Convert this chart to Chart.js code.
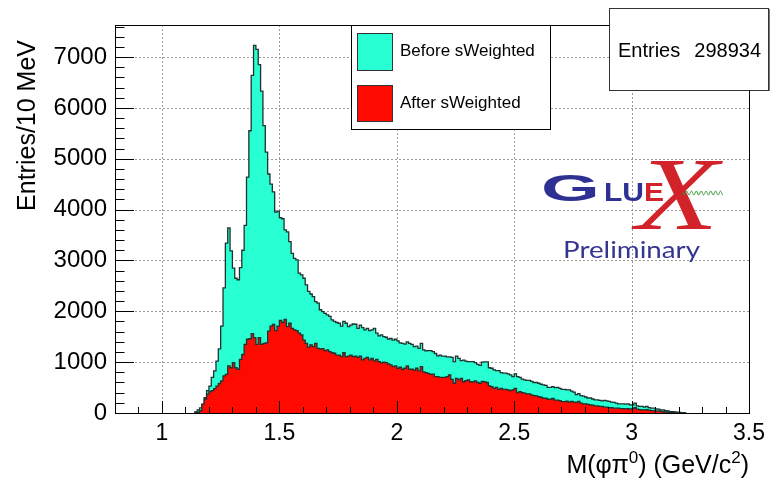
<!DOCTYPE html>
<html>
<head>
<meta charset="utf-8">
<script src="https://cdn.jsdelivr.net/npm/chart.js@4.4.1/dist/chart.umd.min.js"></script>
<style>
  body { margin: 0; background: #fff; }
  canvas { display: block; }
</style>
</head>
<body>
<canvas id="myChart" width="772" height="480"></canvas>
<script>
// axis ranges (GeV, entries)
const xMin = 0.8;
const xMax = 3.5;
const yMax = 7630;

// 10 MeV bins, first filled bin starts at 1.14
const binStart = 1.14;
const binWidth = 0.01;

const xTicks = [1, 1.5, 2, 2.5, 3, 3.5];
const yTicks = [0, 1000, 2000, 3000, 4000, 5000, 6000, 7000];

const seriesNames = ['Before sWeighted', 'After sWeighted'];
const entries = 298934;

// bin contents, one value per 10 MeV bin from 1.14 on
const beforeCounts = [
  20, 60, 100, 170, 300, 440, 530, 700, 830, 1020,
  1260, 1710, 2460, 3340, 3640, 3190, 2850, 2650, 2620, 2860,
  3200, 3690, 4640, 5550, 6640, 7230, 7150, 6850, 6330, 5650,
  5130, 4700, 4500, 4350, 3950, 3970, 3840, 3820, 3600, 3560,
  3370, 3140, 3040, 3010, 2750, 2715, 2650, 2520, 2390, 2340,
  2290, 2190, 2160, 2030, 1995, 1960, 1930, 1900, 1830, 1800,
  1780, 1765, 1710, 1800, 1765, 1700, 1730, 1750, 1745, 1665,
  1730, 1680, 1635, 1665, 1620, 1635, 1665, 1570, 1515, 1535,
  1500, 1490, 1455, 1465, 1435, 1450, 1420, 1380, 1370, 1355,
  1400, 1370, 1350, 1305, 1315, 1270, 1370, 1240, 1220, 1225,
  1225, 1205, 1170, 1125, 1140, 1120, 1120, 1105, 1105, 1095,
  1010, 1120, 1075, 1030, 1040, 1020, 1010, 1010, 1010, 990,
  955, 935, 1000, 1005, 1005, 890, 880, 850, 835, 835,
  795, 785, 785, 770, 750, 715, 770, 715, 700, 665,
  650, 640, 640, 620, 600, 600, 585, 565, 555, 545,
  505, 505, 520, 500, 505, 485, 465, 465, 455, 455,
  430, 410, 360, 380, 340, 330, 315, 295, 295, 275,
  260, 260, 250, 240, 250, 240, 230, 215, 210, 195,
  180, 180, 180, 175, 180, 160, 160, 195, 140, 130,
  130, 115, 130, 105, 95, 95, 80, 75, 60, 60,
  45, 40, 25, 25, 20, 15, 12, 8, 5
];

const afterCounts = [
  10, 15, 45, 175, 275, 370, 420, 440, 480, 530,
  580, 630, 730, 760, 925, 890, 990, 890, 860, 1055,
  1150, 1350, 1450, 1460, 1560, 1480, 1350, 1480, 1350, 1370,
  1380, 1610, 1710, 1740, 1620, 1710, 1820, 1780, 1840, 1700,
  1765, 1665, 1635, 1620, 1570, 1535, 1435, 1370, 1290, 1340,
  1305, 1370, 1270, 1260, 1265, 1225, 1240, 1205, 1185, 1175,
  1140, 1140, 1110, 1185, 1110, 1120, 1140, 1110, 1120, 1095,
  1120, 1045, 1075, 1095, 1045, 1075, 1025, 1055, 1010, 985,
  1000, 990, 965, 945, 910, 925, 880, 900, 860, 880,
  925, 860, 860, 845, 880, 830, 910, 810, 795, 780,
  760, 765, 715, 715, 700, 700, 700, 715, 750, 660,
  585, 680, 650, 680, 615, 635, 650, 615, 610, 630,
  600, 585, 620, 610, 600, 535, 520, 485, 505, 465,
  485, 465, 465, 455, 440, 455, 485, 400, 420, 400,
  390, 375, 375, 355, 340, 335, 320, 310, 290, 290,
  270, 270, 285, 255, 255, 245, 225, 225, 235, 215,
  230, 215, 210, 230, 195, 180, 180, 170, 160, 155,
  140, 140, 130, 130, 115, 115, 105, 105, 95, 95,
  95, 85, 85, 80, 85, 75, 85, 105, 75, 65,
  60, 60, 65, 55, 45, 45, 40, 40, 35, 25,
  20, 20, 15, 12, 8, 6, 3, 2, 0
];

const tealFill = '#28ffd2';
const redFill = '#ff0a00';
const histLine = '#1d3330';
const font = "'Liberation Sans', Arial, sans-serif";

// turn bin contents into a closed step outline (low edge of each bin)
function histPoints(counts) {
  const pts = [{ x: binStart, y: 0 }];
  counts.forEach((c, i) => pts.push({ x: binStart + i * binWidth, y: c }));
  pts.push({ x: binStart + counts.length * binWidth, y: 0 });
  return pts;
}

// ROOT style frame, dotted grid and inside ticks
const rootFrame = {
  id: 'rootFrame',
  beforeDatasetsDraw(chart) {
    const { ctx, chartArea: a, scales: { x, y } } = chart;
    ctx.save();
    ctx.strokeStyle = '#9a9a9a';
    ctx.lineWidth = 1;
    ctx.setLineDash([2, 2]);
    xTicks.forEach(v => {
      const px = Math.round(x.getPixelForValue(v)) + 0.5;
      if (px > a.right - 2) return;
      ctx.beginPath(); ctx.moveTo(px, a.top); ctx.lineTo(px, a.bottom); ctx.stroke();
    });
    yTicks.forEach(v => {
      if (v === 0) return;
      const py = Math.round(y.getPixelForValue(v)) + 0.5;
      ctx.beginPath(); ctx.moveTo(a.left, py); ctx.lineTo(a.right, py); ctx.stroke();
    });
    ctx.restore();
  },
  afterDatasetsDraw(chart) {
    const { ctx, chartArea: a, scales: { x, y } } = chart;
    ctx.save();
    ctx.strokeStyle = '#000';
    ctx.lineWidth = 1;
    ctx.setLineDash([]);
    // x ticks: major every 0.5, minor every 0.1
    for (let i = 0; i <= 27; i++) {
      const v = xMin + i * 0.1;
      const px = Math.round(x.getPixelForValue(v)) + 0.5;
      const major = xTicks.some(t => Math.abs(t - v) < 1e-6);
      const len = major ? 12 : 6;
      ctx.beginPath(); ctx.moveTo(px, a.bottom); ctx.lineTo(px, a.bottom - len); ctx.stroke();
    }
    // y ticks: major every 1000, minor every 200
    for (let v = 0; v <= yMax; v += 200) {
      const py = Math.round(y.getPixelForValue(v)) + 0.5;
      const len = v % 1000 === 0 ? 19 : 9.5;
      ctx.beginPath(); ctx.moveTo(a.left, py); ctx.lineTo(a.left + len, py); ctx.stroke();
    }
    ctx.strokeRect(Math.round(a.left) + 0.5, Math.round(a.top) + 0.5,
      Math.round(a.right - a.left), Math.round(a.bottom - a.top));
    ctx.restore();
  },
  afterDraw(chart) {
    const ctx = chart.ctx;
    const a = chart.chartArea;
    ctx.save();
    ctx.fillStyle = '#000';

    // y title, right aligned to top of axis
    ctx.save();
    ctx.translate(28, a.top + 15);
    ctx.rotate(-Math.PI / 2);
    ctx.font = '25px ' + font;
    ctx.textAlign = 'right';
    ctx.textBaseline = 'middle';
    ctx.fillText('Entries/10 MeV', 0, 0);
    ctx.restore();

    // x title with superscripts, right aligned to end of axis
    const parts = [
      ['M(', false], ['\u03c6\u03c0', false], ['0', true],
      [') (GeV/c', false], ['2', true], [')', false]
    ];
    const big = '25px ' + font, small = '17px ' + font;
    let w = 0;
    parts.forEach(p => { ctx.font = p[1] ? small : big; w += ctx.measureText(p[0]).width; });
    let cx = a.right - w;
    const base = 473;
    ctx.textAlign = 'left';
    ctx.textBaseline = 'alphabetic';
    parts.forEach(p => {
      ctx.font = p[1] ? small : big;
      ctx.fillText(p[0], cx, p[1] ? base - 10 : base);
      cx += ctx.measureText(p[0]).width;
    });

    // legend box
    ctx.fillStyle = '#fff';
    ctx.fillRect(351, 25, 199, 104);
    ctx.strokeStyle = '#000';
    ctx.lineWidth = 1;
    ctx.strokeRect(351.5, 25.5, 199, 104);
    ctx.strokeStyle = '#333';
    ctx.fillStyle = tealFill;
    ctx.fillRect(357, 33, 35, 37);
    ctx.strokeRect(357.5, 33.5, 35, 37);
    ctx.fillStyle = redFill;
    ctx.fillRect(357, 85, 35, 36);
    ctx.strokeRect(357.5, 85.5, 35, 36);
    ctx.fillStyle = '#000';
    ctx.font = '17px ' + font;
    ctx.textBaseline = 'middle';
    ctx.fillText(seriesNames[0], 400, 51);
    ctx.fillText(seriesNames[1], 400, 103);

    // stats box
    ctx.fillStyle = '#777';
    ctx.fillRect(610, 9, 160, 82);
    ctx.fillStyle = '#fff';
    ctx.fillRect(609, 8, 159, 82);
    ctx.strokeStyle = '#333';
    ctx.strokeRect(609.5, 8.5, 159, 82);
    ctx.fillStyle = '#000';
    ctx.font = '20px ' + font;
    ctx.textAlign = 'left';
    ctx.fillText('Entries', 618, 51);
    ctx.textAlign = 'right';
    ctx.fillText(String(entries), 761, 51);

    // GlueX logo
    const blue = '#2e3192';
    const lred = '#d2232a';
    ctx.textAlign = 'left';
    ctx.textBaseline = 'alphabetic';
    ctx.fillStyle = blue;
    ctx.save();
    ctx.translate(541, 201);
    ctx.scale(2.1, 1);
    ctx.font = 'bold 36px ' + font;
    ctx.fillText('G', 0, 0);
    ctx.restore();
    ctx.save();
    ctx.translate(604, 201);
    ctx.scale(1.2, 1);
    ctx.font = 'bold 25px ' + font;
    ctx.fillText('LU', 0, 0);
    ctx.fillStyle = lred;
    ctx.fillText('E', ctx.measureText('LU').width, 0);
    ctx.restore();
    ctx.save();
    ctx.translate(636, 229);
    ctx.scale(1.3, 1);
    ctx.fillStyle = lred;
    ctx.font = 'italic 104px "Liberation Serif", serif';
    ctx.fillText('X', 0, 0);
    ctx.restore();
    // gluon wave
    ctx.strokeStyle = '#3a9a3a';
    ctx.lineWidth = 1;
    ctx.beginPath();
    for (let t = 0; t <= 40; t += 0.5) {
      const py = 193 + 2 * Math.sin(t * 1.3);
      if (t === 0) ctx.moveTo(683 + t, py); else ctx.lineTo(683 + t, py);
    }
    ctx.stroke();
    // Preliminary
    ctx.fillStyle = '#35358f';
    ctx.font = '24px Lato, "Noto Sans", sans-serif';
    const pw = ctx.measureText('Preliminary').width;
    ctx.save();
    ctx.translate(563, 258);
    ctx.scale(137 / pw, 1);
    ctx.fillText('Preliminary', 0, 0);
    ctx.restore();

    ctx.restore();
  }
};

const chart = new Chart(document.getElementById('myChart'), {
  type: 'line',
  data: {
    datasets: [
      {
        label: seriesNames[0],
        data: histPoints(beforeCounts),
        stepped: true,
        fill: 'origin',
        backgroundColor: tealFill,
        borderColor: histLine,
        borderWidth: 1.3,
        pointRadius: 0,
        order: 2
      },
      {
        label: seriesNames[1],
        data: histPoints(afterCounts),
        stepped: true,
        fill: 'origin',
        backgroundColor: redFill,
        borderColor: histLine,
        borderWidth: 1.3,
        pointRadius: 0,
        order: 1
      }
    ]
  },
  options: {
    responsive: false,
    animation: false,
    devicePixelRatio: 1,
    layout: { padding: { left: 0, right: 23, top: 25, bottom: 0 } },
    plugins: {
      legend: { display: false },
      tooltip: { enabled: false }
    },
    scales: {
      x: {
        type: 'linear',
        min: xMin,
        max: xMax,
        grid: { display: false, drawTicks: false },
        border: { display: false },
        afterBuildTicks: s => { s.ticks = xTicks.map(v => ({ value: v })); },
        afterFit: s => { s.height = 67; },
        ticks: {
          autoSkip: false,
          maxRotation: 0,
          padding: 7,
          color: '#000',
          font: { family: font, size: 23 },
          callback: v => String(v)
        }
      },
      y: {
        min: 0,
        max: yMax,
        grid: { display: false, drawTicks: false },
        border: { display: false },
        afterBuildTicks: s => { s.ticks = yTicks.map(v => ({ value: v })); },
        afterFit: s => { s.width = 115; },
        ticks: {
          padding: 8,
          color: '#000',
          font: { family: font, size: 24 },
          callback: v => String(v)
        }
      }
    }
  },
  plugins: [rootFrame]
});
</script>
</body>
</html>
